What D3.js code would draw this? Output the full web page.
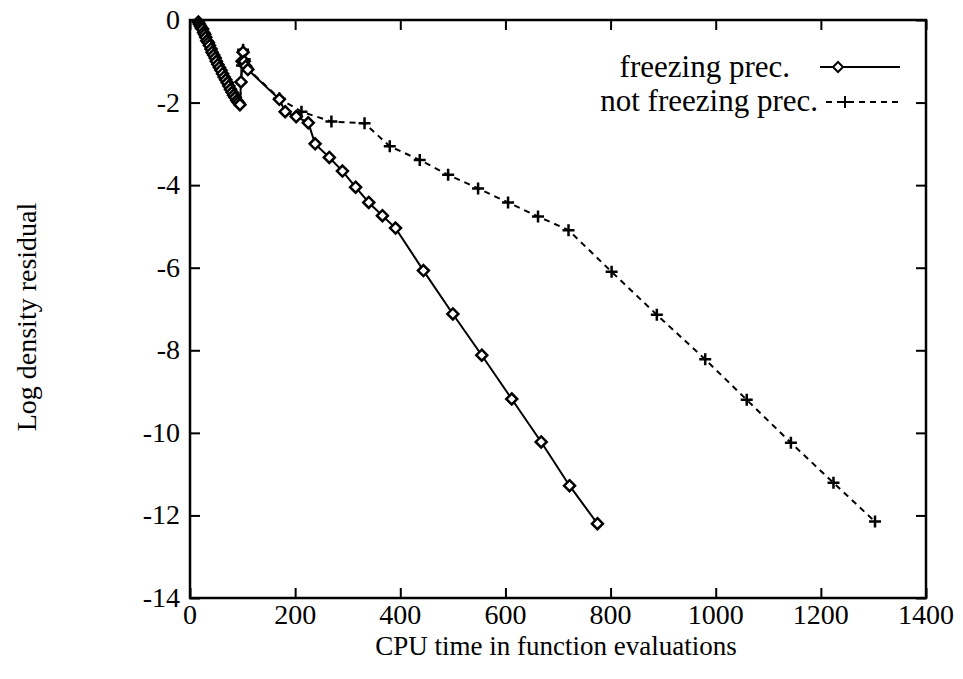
<!DOCTYPE html>
<html><head><meta charset="utf-8">
<script src="https://cdn.jsdelivr.net/npm/d3@7"></script>
<style>
body{margin:0;background:#fff;}
text{font-family:"Liberation Serif","Times New Roman",serif;fill:#000;}
</style></head><body>
<svg id="chart" width="963" height="679"></svg>
<script>
// ---- data ----
const xTicks = [0, 200, 400, 600, 800, 1000, 1200, 1400];
const yTicks = [0, -2, -4, -6, -8, -10, -12, -14];
const seriesNames = ["freezing prec.", "not freezing prec."];
const xLabel = "CPU time in function evaluations";
const yLabel = "Log density residual";

// freezing prec. : CPU time
const freezeX = [16,18,20,22,24,26,28,30,32,35,37,40,42,45,48,50,53,56,59,62,65,68,71,74,77,80,83,86,89,92,95,
  97,99,101,103,106,110,170,181,202,225,238,265,290,315,340,366,391,444,500,555,612,668,722,775];
// freezing prec. : log residual
const freezeY = [-0.05,-0.1,-0.15,-0.2,-0.22,-0.3,-0.35,-0.42,-0.5,-0.55,-0.62,-0.7,-0.78,-0.85,-0.92,-1.0,-1.08,-1.15,-1.22,-1.3,-1.38,-1.45,-1.52,-1.6,-1.68,-1.75,-1.82,-1.88,-1.95,-2.0,-2.05,
  -1.5,-1.0,-0.78,-1.0,-1.12,-1.2,-1.92,-2.22,-2.34,-2.49,-3.0,-3.33,-3.66,-4.05,-4.42,-4.74,-5.04,-6.07,-7.12,-8.12,-9.18,-10.22,-11.28,-12.2];

// not freezing prec. : CPU time
const notFreezeX = [16,22,28,35,42,50,59,68,77,86,95,99,101,104,110,170,212,269,332,380,437,491,548,605,662,720,802,888,980,1059,1143,1224,1303];
// not freezing prec. : log residual
const notFreezeY = [-0.05,-0.2,-0.35,-0.55,-0.78,-1.0,-1.22,-1.45,-1.68,-1.88,-2.05,-1.1,-0.72,-0.95,-1.18,-1.9,-2.22,-2.46,-2.5,-3.06,-3.39,-3.75,-4.08,-4.42,-4.76,-5.09,-6.1,-7.14,-8.22,-9.2,-10.24,-11.21,-12.15];

// ---- layout ----
const L = 190, R = 926, T = 20, B = 598;
const svg = d3.select("#chart");
svg.append("rect").attr("width", 963).attr("height", 679).attr("fill", "#fff");

const x = d3.scaleLinear().domain([0, 1400]).range([L, R]);
const y = d3.scaleLinear().domain([-14, 0]).range([B, T]);

const fs = 27, lfs = 31;

// frame
svg.append("rect").attr("x", L).attr("y", T).attr("width", R - L).attr("height", B - T)
  .attr("fill", "none").attr("stroke", "#000").attr("stroke-width", 2.5);

// axes (ticks inward, mirrored)
const tl = 10;
const gB = svg.append("g").attr("transform", `translate(0,${B})`)
  .call(d3.axisTop(x).tickValues(xTicks).tickSize(tl).tickFormat(""));
const gT = svg.append("g").attr("transform", `translate(0,${T})`)
  .call(d3.axisBottom(x).tickValues(xTicks).tickSize(tl).tickFormat(""));
const gL = svg.append("g").attr("transform", `translate(${L},0)`)
  .call(d3.axisRight(y).tickValues(yTicks).tickSize(tl).tickFormat(""));
const gR = svg.append("g").attr("transform", `translate(${R},0)`)
  .call(d3.axisLeft(y).tickValues(yTicks).tickSize(tl).tickFormat(""));
[gB, gT, gL, gR].forEach(g => {
  g.select(".domain").remove();
  g.selectAll(".tick line").attr("stroke", "#000").attr("stroke-width", 2);
});

// tick labels
svg.append("g").selectAll("text").data(xTicks).join("text")
  .attr("x", d => x(d)).attr("y", B + 26).attr("text-anchor", "middle")
  .attr("font-size", fs + 1).text(d => d);
svg.append("g").selectAll("text").data(yTicks).join("text")
  .attr("x", L - 10).attr("y", d => y(d) + 9).attr("text-anchor", "end")
  .attr("font-size", fs + 1).text(d => d);

// axis titles
svg.append("text").attr("x", (L + R) / 2 - 2).attr("y", 655).attr("text-anchor", "middle")
  .attr("font-size", fs).text(xLabel);
svg.append("text").attr("transform", `translate(36,${(T + B) / 2 + 8}) rotate(-90)`)
  .attr("text-anchor", "middle").attr("font-size", fs + 1).text(yLabel);

// series
const freeze = freezeX.map((v, i) => [v, freezeY[i]]);
const notFreeze = notFreezeX.map((v, i) => [v, notFreezeY[i]]);
const line = d3.line().x(d => x(d[0])).y(d => y(d[1]));

const plot = svg.append("g");
plot.append("path").datum(notFreeze).attr("d", line).attr("fill", "none")
  .attr("stroke", "#000").attr("stroke-width", 2).attr("stroke-dasharray", "6,5");
plot.append("path").datum(freeze).attr("d", line).attr("fill", "none")
  .attr("stroke", "#000").attr("stroke-width", 2);

const diamond = (cx, cy, r) => `M${cx},${cy - r}L${cx + r},${cy}L${cx},${cy + r}L${cx - r},${cy}Z`;
const plus = (cx, cy, r) => `M${cx - r},${cy}H${cx + r}M${cx},${cy - r}V${cy + r}`;

plot.append("g").selectAll("path").data(notFreeze).join("path")
  .attr("d", d => plus(x(d[0]), y(d[1]), 6)).attr("stroke", "#000").attr("stroke-width", 2.5);
plot.append("g").selectAll("path").data(freeze).join("path")
  .attr("d", d => diamond(x(d[0]), y(d[1]), 5.5)).attr("fill", "#fff")
  .attr("stroke", "#000").attr("stroke-width", 2.5);

// legend
const lg = svg.append("g");
lg.append("text").attr("x", 790).attr("y", 77).attr("text-anchor", "end").attr("font-size", lfs).text(seriesNames[0]);
lg.append("text").attr("x", 818).attr("y", 111).attr("text-anchor", "end").attr("font-size", lfs).text(seriesNames[1]);
lg.append("line").attr("x1", 820).attr("x2", 900).attr("y1", 67).attr("y2", 67).attr("stroke", "#000").attr("stroke-width", 2);
lg.append("path").attr("d", diamond(838, 67, 5)).attr("fill", "#fff").attr("stroke", "#000").attr("stroke-width", 2);
lg.append("line").attr("x1", 826).attr("x2", 900).attr("y1", 102).attr("y2", 102).attr("stroke", "#000").attr("stroke-width", 2).attr("stroke-dasharray", "6,5");
lg.append("path").attr("d", plus(845, 102, 6)).attr("stroke", "#000").attr("stroke-width", 2);
</script>
</body></html>
